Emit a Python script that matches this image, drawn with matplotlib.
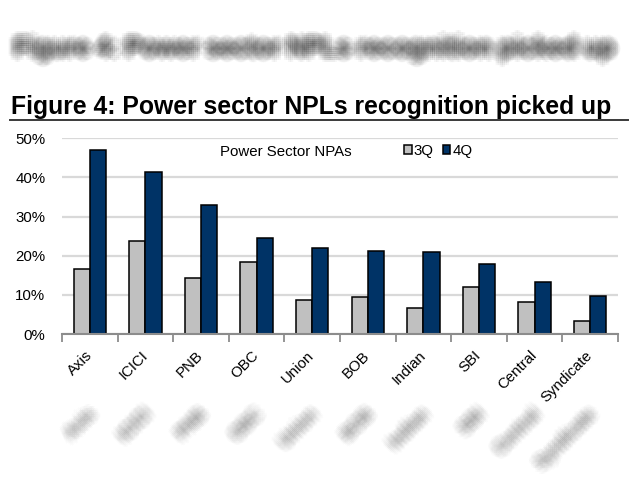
import matplotlib
matplotlib.use("Agg")
import matplotlib.pyplot as plt
import matplotlib.patheffects as pe
from matplotlib.lines import Line2D
import numpy as np

plt.rcParams['font.family'] = ['Liberation Sans', 'DejaVu Sans']

banks = ["Axis", "ICICI", "PNB", "OBC", "Union", "BOB", "Indian", "SBI", "Central", "Syndicate"]
q3 = [16.6, 23.8, 14.4, 18.3, 8.7, 9.5, 6.7, 11.9, 8.2, 3.2]
q4 = [47.0, 41.4, 32.9, 24.6, 21.9, 21.2, 20.9, 17.8, 13.4, 9.7]
yticks = [0, 10, 20, 30, 40, 50]
ytick_labels = ["0%", "10%", "20%", "30%", "40%", "50%"]
series_labels = ["3Q", "4Q"]
title = "Figure 4: Power sector NPLs recognition picked up"
chart_label = "Power Sector NPAs"

W, H = 640, 479
fig = plt.figure(figsize=(W / 100, H / 100), dpi=100)

def fx(px):
    return px / W

def fy(py):
    return 1 - py / H

def blur_effects(color, alpha, radius_px, n=8):
    effs = []
    for dx in np.linspace(-radius_px, radius_px, n):
        for dy in np.linspace(-radius_px, radius_px, n):
            if dx * dx + dy * dy <= radius_px * radius_px * 1.05:
                effs.append(pe.SimplePatchShadow(offset=(dx * 0.72, dy * 0.72), shadow_rgbFace=color,
                                                 alpha=alpha, rho=1.0))
    return effs

# blurred heading at the top (imitating the blurred source region)
fig.text(fx(14), fy(48), title, fontsize=17.8, fontweight='bold', color='none', va='center', ha='left',
         path_effects=blur_effects('#404040', 0.045, 7))

# title
fig.text(fx(11), fy(107), title, fontsize=17.8, fontweight='bold', color='black', va='center', ha='left')
fig.add_artist(Line2D([fx(10), fx(628)], [fy(120), fy(120)], color='#3a3a3a', lw=1.4, transform=fig.transFigure))

ax = fig.add_axes([fx(62), fy(334), fx(618) - fx(62), fy(138.3) - fy(334)])
x = np.arange(len(banks))
w = 0.29
ax.bar(x - w / 2, q3, w, color='#c0c0c0', edgecolor='black', linewidth=1.1, label=series_labels[0], zorder=3)
ax.bar(x + w / 2, q4, w, color='#003366', edgecolor='black', linewidth=1.1, label=series_labels[1], zorder=3)

ax.set_xlim(-0.5, len(banks) - 0.5)
ax.set_ylim(0, 50)
ax.set_yticks(yticks)
ax.set_yticklabels(ytick_labels, fontsize=10.8)
ax.tick_params(axis='y', length=0, pad=12)
ax.yaxis.grid(True, color='#d9d9d9', linewidth=1.6, zorder=0)
ax.set_axisbelow(True)
for s in ['left', 'right', 'top']:
    ax.spines[s].set_visible(False)
ax.spines['bottom'].set_color('#8c8c8c')
ax.spines['bottom'].set_linewidth(1.5)
ax.spines['bottom'].set_zorder(4)

ax.set_xticks(x)
ax.set_xticklabels(banks, fontsize=10.8, rotation=45, ha='right', va='center', rotation_mode='anchor')
ax.tick_params(axis='x', length=0, pad=14)
ax.set_xticks(np.arange(-0.5, len(banks)), minor=True)
ax.tick_params(axis='x', which='minor', length=6, width=1.3, color='#8c8c8c', direction='out')

# blurred copies of labels below (imitating the blurred source region)
for i, b in enumerate(banks):
    ax.annotate(b, xy=(i, 0), xycoords='data', xytext=(2, -78), textcoords='offset pixels',
                rotation=45, ha='right', va='center', rotation_mode='anchor', fontsize=11.5,
                fontweight='bold', color='none', annotation_clip=False,
                path_effects=blur_effects('#606060', 0.022, 7))

fig.text(fx(220), fy(152), chart_label, fontsize=10.8, va='center', ha='left')
leg = ax.legend(loc='center left', bbox_to_anchor=(fx(404), fy(151)), bbox_transform=fig.transFigure,
                ncol=2, frameon=False, fontsize=10.8, handlelength=0.5, handleheight=0.5,
                handletextpad=0.15, columnspacing=0.6, borderaxespad=0, borderpad=0)

fig.savefig("out.png", dpi=100)
